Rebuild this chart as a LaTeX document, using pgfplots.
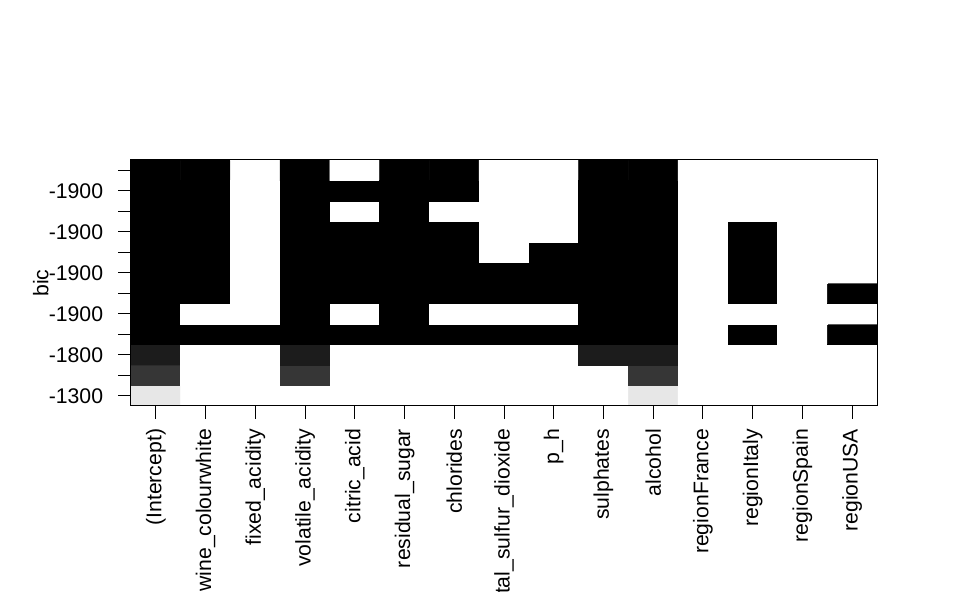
\documentclass[border=0pt]{standalone}
\usepackage{pgfplots}
\pgfplotsset{compat=1.18}
\usepackage{fontspec}
\setmainfont{Liberation Sans}
\begin{document}
\begin{tikzpicture}[font=\fontsize{15.9}{18}\selectfont]
\useasboundingbox (-98.25pt,-139.5pt) rectangle (619.5pt,304.5pt);
\begin{axis}[
  at={(0,0)}, anchor=south west,
  scale only axis,
  axis on top,
  width=559.5pt, height=184.5pt,
  xmin=-0.5, xmax=14.5, ymin=-0.5, ymax=11.5,
  axis line style={line width=0.75pt},
  tick style={line width=0.75pt, black},
  tick align=outside,
  major tick length=9.5pt,
  xtick pos=bottom, ytick pos=left,
  xtick={0,...,14},
  xticklabels={(Intercept),wine\_colourwhite,fixed\_acidity,volatile\_acidity,citric\_acid,residual\_sugar,chlorides,total\_sulfur\_dioxide,p\_h,sulphates,alcohol,regionFrance,regionItaly,regionSpain,regionUSA},
  xticklabel style={rotate=90, anchor=east, inner sep=0pt},
  xticklabel shift=7.5pt,
  ytick={0,...,11},
  yticklabels={-1300,,-1800,,-1900,,-1900,,-1900,,-1900,},
  yticklabel style={inner sep=0pt},
  yticklabel shift=11.25pt,
  ylabel={bic},
  every axis y label/.style={at={(axis description cs:-0.1108,0.5)}, anchor=base, rotate=90, inner sep=0pt},
  colormap/blackwhite,
  point meta min=0, point meta max=1,
  /pgf/number format/assume math mode=true,
]
\addplot[matrix plot*, mesh/cols=15, point meta=explicit] table[x=x, y=y, meta=c, row sep=\\] {
x y c\\
0 0 0.9\\ 1 0 1\\ 2 0 1\\ 3 0 1\\ 4 0 1\\ 5 0 1\\ 6 0 1\\ 7 0 1\\ 8 0 1\\ 9 0 1\\ 10 0 0.9\\ 11 0 1\\ 12 0 1\\ 13 0 1\\ 14 0 1\\
0 1 0.21\\ 1 1 1\\ 2 1 1\\ 3 1 0.21\\ 4 1 1\\ 5 1 1\\ 6 1 1\\ 7 1 1\\ 8 1 1\\ 9 1 1\\ 10 1 0.21\\ 11 1 1\\ 12 1 1\\ 13 1 1\\ 14 1 1\\
0 2 0.11\\ 1 2 1\\ 2 2 1\\ 3 2 0.11\\ 4 2 1\\ 5 2 1\\ 6 2 1\\ 7 2 1\\ 8 2 1\\ 9 2 0.11\\ 10 2 0.11\\ 11 2 1\\ 12 2 1\\ 13 2 1\\ 14 2 1\\
0 3 0\\ 1 3 0\\ 2 3 0\\ 3 3 0\\ 4 3 0\\ 5 3 0\\ 6 3 0\\ 7 3 0\\ 8 3 0\\ 9 3 0\\ 10 3 0\\ 11 3 1\\ 12 3 0\\ 13 3 1\\ 14 3 0\\
0 4 0\\ 1 4 1\\ 2 4 1\\ 3 4 0\\ 4 4 1\\ 5 4 0\\ 6 4 1\\ 7 4 1\\ 8 4 1\\ 9 4 0\\ 10 4 0\\ 11 4 1\\ 12 4 1\\ 13 4 1\\ 14 4 1\\
0 5 0\\ 1 5 0\\ 2 5 1\\ 3 5 0\\ 4 5 0\\ 5 5 0\\ 6 5 0\\ 7 5 0\\ 8 5 0\\ 9 5 0\\ 10 5 0\\ 11 5 1\\ 12 5 0\\ 13 5 1\\ 14 5 0\\
0 6 0\\ 1 6 0\\ 2 6 1\\ 3 6 0\\ 4 6 0\\ 5 6 0\\ 6 6 0\\ 7 6 0\\ 8 6 0\\ 9 6 0\\ 10 6 0\\ 11 6 1\\ 12 6 0\\ 13 6 1\\ 14 6 1\\
0 7 0\\ 1 7 0\\ 2 7 1\\ 3 7 0\\ 4 7 0\\ 5 7 0\\ 6 7 0\\ 7 7 1\\ 8 7 0\\ 9 7 0\\ 10 7 0\\ 11 7 1\\ 12 7 0\\ 13 7 1\\ 14 7 1\\
0 8 0\\ 1 8 0\\ 2 8 1\\ 3 8 0\\ 4 8 0\\ 5 8 0\\ 6 8 0\\ 7 8 1\\ 8 8 1\\ 9 8 0\\ 10 8 0\\ 11 8 1\\ 12 8 0\\ 13 8 1\\ 14 8 1\\
0 9 0\\ 1 9 0\\ 2 9 1\\ 3 9 0\\ 4 9 1\\ 5 9 0\\ 6 9 1\\ 7 9 1\\ 8 9 1\\ 9 9 0\\ 10 9 0\\ 11 9 1\\ 12 9 1\\ 13 9 1\\ 14 9 1\\
0 10 0\\ 1 10 0\\ 2 10 1\\ 3 10 0\\ 4 10 0\\ 5 10 0\\ 6 10 0\\ 7 10 1\\ 8 10 1\\ 9 10 0\\ 10 10 0\\ 11 10 1\\ 12 10 1\\ 13 10 1\\ 14 10 1\\
0 11 0\\ 1 11 0\\ 2 11 1\\ 3 11 0\\ 4 11 1\\ 5 11 0\\ 6 11 0\\ 7 11 1\\ 8 11 1\\ 9 11 0\\ 10 11 0\\ 11 11 1\\ 12 11 1\\ 13 11 1\\ 14 11 1\\
};
\end{axis}
\end{tikzpicture}
\end{document}
